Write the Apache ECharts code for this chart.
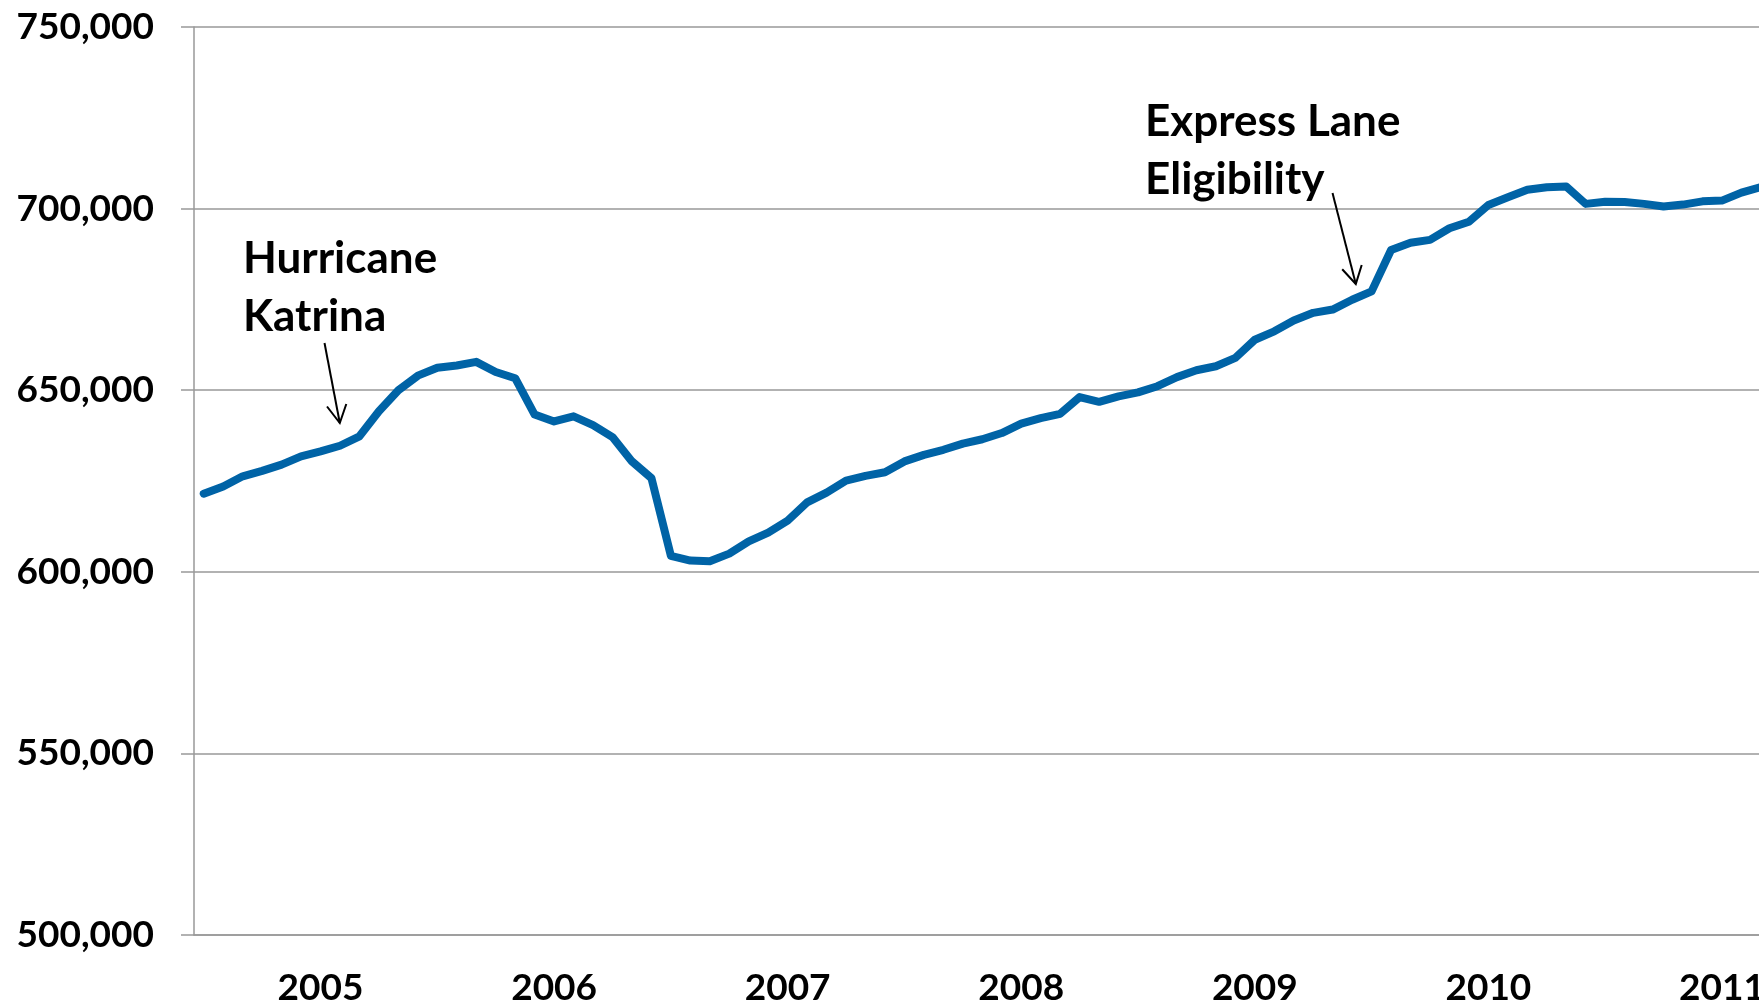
<!DOCTYPE html>
<html>
<head>
<meta charset="utf-8">
<title>Enrollment 2005–2011</title>
<script src="https://cdn.jsdelivr.net/npm/echarts@6/dist/echarts.min.js"></script>
<style>
  html, body { margin: 0; padding: 0; background: #ffffff; }
  #chart { width: 1759px; height: 1007px; }
</style>
</head>
<body>
<div id="chart"></div>
<script>
// Calendar years shown on the horizontal axis (one category per month)
const years = ['2005', '2006', '2007', '2008', '2009', '2010', '2011'];
const monthNumbers = ['01','02','03','04','05','06','07','08','09','10','11','12'];

// Monthly enrollment, January 2005 onward
const enrollment2005 = [621500, 623500, 626300, 627800, 629500, 631800, 633150, 634700, 637300, 644200, 650000, 654000];
const enrollment2006 = [656200, 656800, 657800, 655000, 653300, 643300, 641400, 642800, 640400, 637100, 630400, 625800];
const enrollment2007 = [604400, 603100, 602900, 605000, 608400, 610800, 614100, 619100, 621800, 625100, 626400, 627400];
const enrollment2008 = [630400, 632200, 633600, 635300, 636500, 638200, 640800, 642300, 643500, 648100, 646800, 648300];
const enrollment2009 = [649400, 651100, 653600, 655500, 656600, 658900, 663900, 666200, 669200, 671300, 672200, 674900];
const enrollment2010 = [677200, 688600, 690600, 691400, 694600, 696400, 701000, 703100, 705200, 705900, 706100, 701300];
const enrollment2011 = [701900, 701800, 701300, 700600, 701100, 702000, 702200, 704400, 705900];

// Value axis ticks
const yMin = 500000;
const yMax = 750000;
const yStep = 50000;

const months = [];
years.forEach(y => monthNumbers.forEach(m => months.push(y + '-' + m)));
const enrollment = [].concat(enrollment2005, enrollment2006, enrollment2007,
  enrollment2008, enrollment2009, enrollment2010, enrollment2011);

const FONT = 'Lato, "Open Sans", "Noto Sans", sans-serif';
const GRID_COLOR = '#999999';

const chart = echarts.init(document.getElementById('chart'), null, { renderer: 'canvas' });

chart.setOption({
  animation: false,
  backgroundColor: '#ffffff',
  // The plot runs on past the right edge of the page, so the last year is cut off
  grid: { left: 194, top: 27, width: 1635, bottom: 72, containLabel: false, outerBoundsMode: 'none' },
  xAxis: {
    type: 'category',
    data: months,
    boundaryGap: true,
    axisLine: { show: true, lineStyle: { color: GRID_COLOR, width: 1.5 } },
    axisTick: { show: false },
    splitLine: { show: false },
    axisLabel: {
      interval: (index) => index % 12 === 6,
      formatter: (v) => v.slice(0, 4),
      margin: 35,
      color: '#000000',
      fontFamily: FONT,
      fontWeight: 'bold',
      fontSize: 37,
      hideOverlap: false
    }
  },
  yAxis: {
    type: 'value',
    min: yMin,
    max: yMax,
    interval: yStep,
    axisLine: { show: true, lineStyle: { color: GRID_COLOR, width: 1.5 } },
    axisTick: { show: true, inside: false, length: 13, lineStyle: { color: GRID_COLOR, width: 1.5 } },
    splitLine: { show: true, lineStyle: { color: GRID_COLOR, width: 1.5 } },
    axisLabel: {
      margin: 40,
      color: '#000000',
      fontFamily: FONT,
      fontWeight: 'bold',
      fontSize: 37,
      formatter: (v) => v.toLocaleString('en-US')
    }
  },
  series: [{
    name: 'Enrollment',
    type: 'line',
    data: enrollment,
    symbol: 'none',
    smooth: false,
    lineStyle: { color: '#0063a6', width: 8, join: 'round', cap: 'round' },
    z: 3
  }],
  graphic: [
    // Hurricane Katrina note and arrow
    {
      type: 'text',
      left: 243, top: 230,
      style: {
        text: 'Hurricane\nKatrina',
        fill: '#000000',
        fontFamily: FONT,
        fontWeight: 'bold',
        fontSize: 44,
        lineHeight: 58
      },
      z: 10
    },
    {
      type: 'line',
      shape: { x1: 324.5, y1: 343, x2: 339.8, y2: 423 },
      style: { stroke: '#000000', lineWidth: 2 },
      z: 10
    },
    {
      type: 'polyline',
      shape: { points: [[327, 406.5], [339.8, 423], [346.3, 404]] },
      style: { stroke: '#000000', lineWidth: 2, fill: null },
      z: 10
    },
    // Express Lane Eligibility note and arrow
    {
      type: 'text',
      left: 1145, top: 93,
      style: {
        text: 'Express Lane\nEligibility',
        fill: '#000000',
        fontFamily: FONT,
        fontWeight: 'bold',
        fontSize: 44,
        lineHeight: 58
      },
      z: 10
    },
    {
      type: 'line',
      shape: { x1: 1332.5, y1: 193, x2: 1355.8, y2: 284 },
      style: { stroke: '#000000', lineWidth: 2 },
      z: 10
    },
    {
      type: 'polyline',
      shape: { points: [[1342.2, 269.3], [1355.8, 284], [1361.7, 265]] },
      style: { stroke: '#000000', lineWidth: 2, fill: null },
      z: 10
    }
  ]
});
</script>
</body>
</html>
